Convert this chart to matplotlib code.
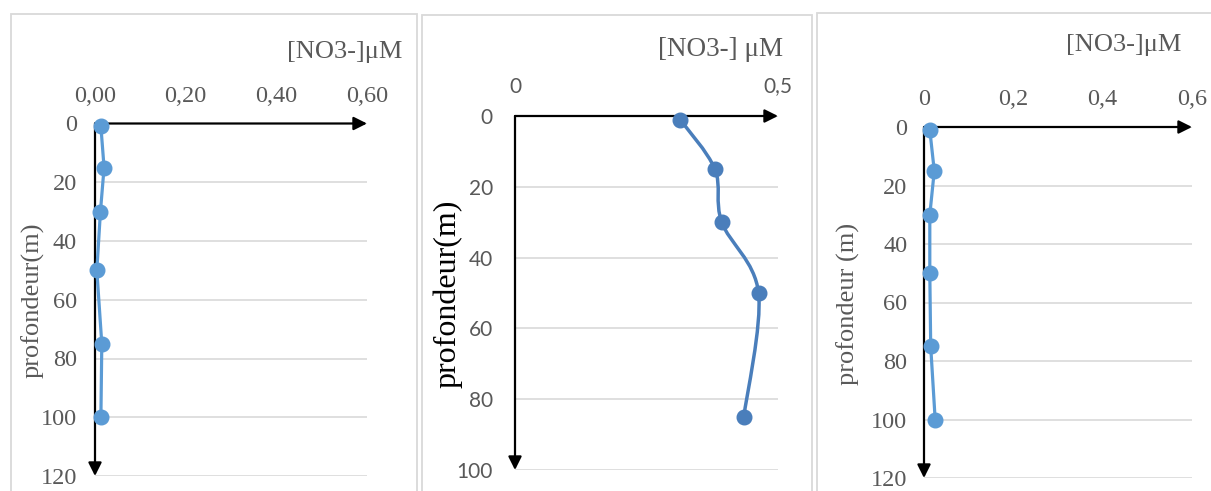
import matplotlib.pyplot as plt
import numpy as np
from matplotlib.patches import Rectangle, PathPatch
from matplotlib.path import Path

# --- données ---
prof1 = [1, 15, 30, 50, 75, 100]
no3_1 = [0.013, 0.020, 0.012, 0.004, 0.015, 0.013]

prof2 = [1, 15, 30, 50, 85]
no3_2 = [0.314, 0.380, 0.393, 0.463, 0.435]

prof3 = [1, 15, 30, 50, 75, 100]
no3_3 = [0.013, 0.023, 0.013, 0.013, 0.015, 0.025]

xt1 = [0, 0.2, 0.4, 0.6]
xl1 = ['0,00', '0,20', '0,40', '0,60']
xt2 = [0, 0.5]
xl2 = ['0', '0,5']
xt3 = [0, 0.2, 0.4, 0.6]
xl3 = ['0', '0,2', '0,4', '0,6']

W, H = 1211, 491
gris = '#595959'
bleu1 = '#5B9BD5'
bleu2 = '#4A7EBB'
serif = 'Liberation Serif'

fig = plt.figure(figsize=(W / 100, H / 100), dpi=100)


def rect_px(x0, x1, y0, y1):
    return [x0 / W, (H - y1) / H, (x1 - x0) / W, (y1 - y0) / H]


def cadre(x0, x1, y0):
    fig.patches.append(Rectangle((x0 / W, -0.1), (x1 - x0) / W, (H - y0) / H + 0.1,
                                 transform=fig.transFigure, fill=False,
                                 ec='#D9D9D9', lw=1.3))


def panneau(r, xmax, ymax, xt, xl, tickfont, ticksize, xpad, ypad):
    ax = fig.add_axes(rect_px(*r))
    ax.set_xlim(0, xmax)
    ax.set_ylim(ymax, 0)
    for s in ax.spines.values():
        s.set_visible(False)
    ax.xaxis.tick_top()
    ax.set_xticks(xt)
    ax.set_xticklabels(xl)
    ax.set_yticks(np.arange(0, ymax + 1, 20))
    ax.tick_params(length=0, colors=gris, labelsize=ticksize)
    ax.tick_params(axis='x', pad=xpad)
    ax.tick_params(axis='y', pad=ypad)
    for t in ax.get_xticklabels() + ax.get_yticklabels():
        t.set_family(tickfont)
    ax.grid(axis='y', color='#D9D9D9', lw=1.2)
    ax.set_axisbelow(True)
    ap = dict(arrowstyle='-|>', color='black', lw=1.6, mutation_scale=20,
              shrinkA=0, shrinkB=0)
    ax.annotate('', xy=(xmax, 0), xytext=(0, 0), arrowprops=ap,
                annotation_clip=False, zorder=3)
    ax.annotate('', xy=(0, ymax), xytext=(0, 0), arrowprops=ap,
                annotation_clip=False, zorder=3)
    return ax


# cadres
cadre(11, 417, 14)
cadre(422, 812, 15)
cadre(817, 1240, 13)

# panneau 1
ax1 = panneau((95, 367, 123.5, 476), 0.6, 120, xt1, xl1, serif, 17.5, 12, 13)
ax1.plot(no3_1, prof1, color=bleu1, lw=2.3, marker='o', ms=10.5,
         zorder=4, clip_on=False)
fig.text(402 / W, 1 - 52 / H, '[NO3-]μM', ha='right', va='center',
         family=serif, fontsize=19, color=gris)
fig.text(33 / W, 1 - 300 / H, 'profondeur(m)', ha='center', va='center',
         rotation=90, family=serif, fontsize=19, color=gris)

# panneau 2 (courbe lissée)
ax2 = panneau((515, 778, 116, 470), 0.5, 100, xt2, xl2, 'Lato', 15, 14, 16)
pts = np.column_stack([no3_2, prof2])
ext = np.vstack([pts[0], pts, pts[-1]])
verts = [pts[0]]
codes = [Path.MOVETO]
for i in range(len(pts) - 1):
    p0, p1, p2, p3 = ext[i], ext[i + 1], ext[i + 2], ext[i + 3]
    verts += [p1 + (p2 - p0) / 6, p2 - (p3 - p1) / 6, p2]
    codes += [Path.CURVE4] * 3
ax2.add_patch(PathPatch(Path(verts, codes), fc='none', ec=bleu2, lw=2.5,
                        zorder=4, clip_on=False))
ax2.plot(no3_2, prof2, ls='none', marker='o', ms=10.5, color=bleu2,
         zorder=5, clip_on=False)
fig.text(783 / W, 1 - 49 / H, '[NO3-] μM', ha='right', va='center',
         family=serif, fontsize=19.5, color=gris)
fig.text(448 / W, 1 - 294 / H, 'profondeur(m)', ha='center', va='center',
         rotation=90, family=serif, fontsize=23, color='black')

# panneau 3
ax3 = panneau((924, 1192, 127, 478), 0.6, 120, xt3, xl3, serif, 17.5, 12, 12)
ax3.plot(no3_3, prof3, color=bleu1, lw=2.3, marker='o', ms=10.5,
         zorder=4, clip_on=False)
fig.text(1181 / W, 1 - 45 / H, '[NO3-]μM', ha='right', va='center',
         family=serif, fontsize=19, color=gris)
fig.text(848 / W, 1 - 304 / H, 'profondeur (m)', ha='center', va='center',
         rotation=90, family=serif, fontsize=19, color=gris)

fig.savefig('out.png', dpi=100)
